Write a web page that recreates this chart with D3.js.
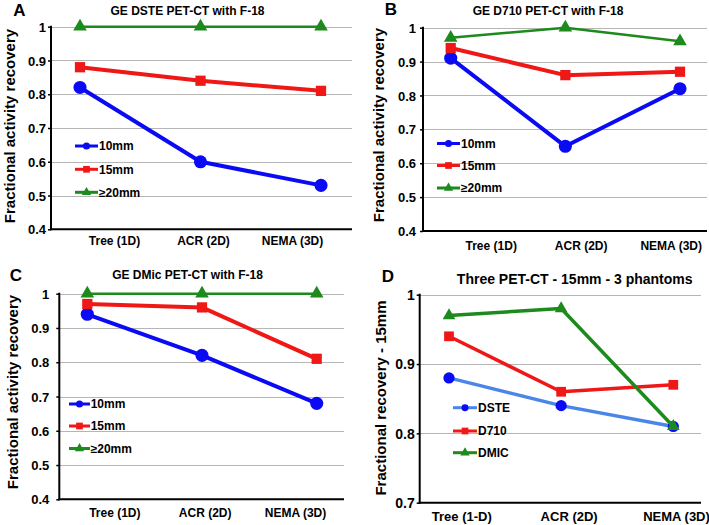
<!DOCTYPE html>
<html>
<head>
<meta charset="utf-8">
<script src="https://cdn.jsdelivr.net/npm/d3@7"></script>
<style>
  html, body { margin: 0; padding: 0; background: #fff; }
  svg { display: block; }
  text { font-family: "Liberation Sans", Arial, Helvetica, sans-serif; font-weight: bold; fill: #000; }
</style>
</head>
<body>
<svg id="chart" width="709" height="525"></svg>
<script>
// ---------------- DATA ----------------
const categoriesABC = ["Tree (1D)", "ACR (2D)", "NEMA (3D)"];
const categoriesD = ["Tree (1-D)", "ACR (2D)", "NEMA (3D)"];
const sizeSeriesNames = ["10mm", "15mm", "\u226520mm"];
const scannerSeriesNames = ["DSTE", "D710", "DMIC"];

const titleA = "GE DSTE PET-CT with F-18";
const titleB = "GE D710 PET-CT with F-18";
const titleC = "GE DMic PET-CT with F-18";
const titleD = "Three PET-CT - 15mm - 3 phantoms";
const yTitleABC = "Fractional activity recovery";
const yTitleD = "Fractional recovery - 15mm";

const panelA_10mm = [0.82, 0.60, 0.53];
const panelA_15mm = [0.88, 0.84, 0.81];
const panelA_20mm = [1.00, 1.00, 1.00];

const panelB_10mm = [0.91, 0.65, 0.82];
const panelB_15mm = [0.94, 0.86, 0.87];
const panelB_20mm = [0.97, 1.00, 0.96];

const panelC_10mm = [0.94, 0.82, 0.68];
const panelC_15mm = [0.97, 0.96, 0.81];
const panelC_20mm = [1.00, 1.00, 1.00];

const panelD_DSTE = [0.88, 0.84, 0.81];
const panelD_D710 = [0.94, 0.86, 0.87];
const panelD_DMIC = [0.97, 0.98, 0.81];

const yTicksABC = [0.4, 0.5, 0.6, 0.7, 0.8, 0.9, 1];
const yTickLabelsABC = ["0.4", "0.5", "0.6", "0.7", "0.8", "0.9", "1"];
const yTicksD = [0.7, 0.8, 0.9, 1];
const yTickLabelsD = ["0.7", "0.8", "0.9", "1"];

// ---------------- STYLE ----------------
const BLUE = "#0a0af5", RED = "#f01717", GREEN = "#1d8a1d", LIGHTBLUE = "#4a86e8", GRID = "#b5b5b5";

const svg = d3.select("#chart");

function drawPanel(cfg) {
  const g = svg.append("g");
  const y = d3.scaleLinear().domain(cfg.yDomain).range([cfg.yBottom, cfg.yTop]);
  const xPts = d3.scalePoint().domain(cfg.categories).range(cfg.pointRange);
  const xLab = d3.scalePoint().domain(cfg.categories).range(cfg.labelRange);

  // gridlines
  g.selectAll("line.grid").data(cfg.yTicks.filter(v => v !== cfg.yDomain[0])).join("line")
    .attr("class", "grid")
    .attr("x1", cfg.axisX).attr("x2", cfg.gridEnd)
    .attr("y1", d => Math.round(y(d)) + 0.5).attr("y2", d => Math.round(y(d)) + 0.5)
    .attr("stroke", GRID).attr("stroke-width", 1);

  // y axis
  const yAxis = d3.axisLeft(y).tickValues(cfg.yTicks)
    .tickFormat((d, i) => cfg.yTickLabels[i]).tickSize(3).tickPadding(cfg.tickPad);
  const ya = g.append("g").attr("transform", `translate(${cfg.axisX},0)`).call(yAxis);
  ya.select(".domain").remove();
  ya.selectAll(".tick line").attr("stroke", "#000").attr("stroke-width", 1.5);
  ya.selectAll(".tick text").style("font-size", cfg.tickFont + "px").attr("dy", "0.35em");
  g.append("line").attr("x1", cfg.axisX).attr("x2", cfg.axisX)
    .attr("y1", cfg.yTop - 1).attr("y2", cfg.yBottom + 1)
    .attr("stroke", "#000").attr("stroke-width", 2);
  g.append("line").attr("x1", cfg.axisX - 1).attr("x2", cfg.gridEnd)
    .attr("y1", cfg.yBottom).attr("y2", cfg.yBottom)
    .attr("stroke", "#000").attr("stroke-width", 2);

  // x labels
  const xAxis = d3.axisBottom(xLab).tickSize(0).tickPadding(0);
  const xa = g.append("g").attr("transform", `translate(0,${cfg.xLabelY})`).call(xAxis);
  xa.select(".domain").remove();
  xa.selectAll(".tick text").style("font-size", cfg.xFont + "px").attr("dy", "0");

  // titles
  g.append("text").attr("x", cfg.titleX).attr("y", cfg.titleY).attr("text-anchor", "middle")
    .style("font-size", cfg.titleFont + "px").text(cfg.title);
  g.append("text").attr("x", cfg.letterX).attr("y", cfg.letterY).attr("text-anchor", "middle")
    .style("font-size", "17px").text(cfg.letter);
  g.append("text").attr("transform", `translate(${cfg.yTitleX},${cfg.yTitleY}) rotate(-90)`)
    .attr("text-anchor", "middle").style("font-size", cfg.yTitleFont + "px").text(cfg.yTitle);

  // series
  const line = d3.line().x((d, i) => xPts(cfg.categories[i])).y(d => y(d));
  cfg.series.forEach(s => {
    g.append("path").datum(s.values).attr("d", line)
      .attr("fill", "none").attr("stroke", s.lineColor).attr("stroke-width", s.lineWidth)
      .attr("stroke-linejoin", "round");
    g.selectAll(null).data(s.values).join("path")
      .attr("transform", (d, i) => `translate(${xPts(cfg.categories[i])},${y(d)})`)
      .attr("d", d3.symbol().type(s.symbol).size(s.size))
      .attr("fill", s.color);
  });

  // legend
  cfg.series.forEach((s, i) => {
    const ly = cfg.legendY[i];
    g.append("line").attr("x1", cfg.legendX[0]).attr("x2", cfg.legendX[1])
      .attr("y1", ly).attr("y2", ly).attr("stroke", s.lineColor).attr("stroke-width", 3);
    g.append("path").attr("transform", `translate(${(cfg.legendX[0] + cfg.legendX[1]) / 2},${ly})`)
      .attr("d", d3.symbol().type(s.symbol).size(s.legendSize)).attr("fill", s.color);
    g.append("text").attr("x", cfg.legendTextX).attr("y", ly).attr("dy", "0.36em")
      .style("font-size", "12px").text(s.name);
  });
}

function sizeSeries(v10, v15, v20) {
  return [
    { name: sizeSeriesNames[0], values: v10, color: BLUE, lineColor: BLUE, lineWidth: 4, symbol: d3.symbolCircle, size: 135, legendSize: 40 },
    { name: sizeSeriesNames[1], values: v15, color: RED, lineColor: RED, lineWidth: 4, symbol: d3.symbolSquare, size: 105, legendSize: 45 },
    { name: " " + sizeSeriesNames[2], values: v20, color: GREEN, lineColor: GREEN, lineWidth: 2.5, symbol: d3.symbolTriangle, size: 80, legendSize: 38 }
  ];
}

drawPanel({
  letter: "A", letterX: 19.5, letterY: 16, title: titleA, titleX: 187.5, titleY: 15, titleFont: 12,
  yTitle: yTitleABC, yTitleX: 15, yTitleY: 126, yTitleFont: 15,
  categories: categoriesABC, yDomain: [0.4, 1], yTicks: yTicksABC, yTickLabels: yTickLabelsABC,
  yTop: 26.7, yBottom: 229.3, axisX: 51, gridEnd: 352, tickPad: 2, tickFont: 13,
  pointRange: [80, 321], labelRange: [114, 292], xLabelY: 245, xFont: 12,
  legendX: [75, 98], legendTextX: 99, legendY: [146, 169.3, 192.3],
  series: sizeSeries(panelA_10mm, panelA_15mm, panelA_20mm)
});

drawPanel({
  letter: "B", letterX: 391, letterY: 14.5, title: titleB, titleX: 548, titleY: 15, titleFont: 12,
  yTitle: yTitleABC, yTitleX: 384, yTitleY: 125, yTitleFont: 15,
  categories: categoriesABC, yDomain: [0.4, 1], yTicks: yTicksABC, yTickLabels: yTickLabelsABC,
  yTop: 27.7, yBottom: 231, axisX: 423, gridEnd: 707, tickPad: 4, tickFont: 13,
  pointRange: [450.7, 680], labelRange: [490.7, 670.7], xLabelY: 250, xFont: 12,
  legendX: [437, 460], legendTextX: 461, legendY: [143.5, 165.5, 188],
  series: sizeSeries(panelB_10mm, panelB_15mm, panelB_20mm)
});

drawPanel({
  letter: "C", letterX: 16, letterY: 280.5, title: titleC, titleX: 187.5, titleY: 278.7, titleFont: 12,
  yTitle: yTitleABC, yTitleX: 18, yTitleY: 392, yTitleFont: 15,
  categories: categoriesABC, yDomain: [0.4, 1], yTicks: yTicksABC, yTickLabels: yTickLabelsABC,
  yTop: 293.7, yBottom: 499.3, axisX: 59.3, gridEnd: 344, tickPad: 7, tickFont: 13,
  pointRange: [87.3, 316.7], labelRange: [114.3, 295], xLabelY: 516.5, xFont: 12,
  legendX: [69, 90], legendTextX: 90.7, legendY: [404, 426, 448.5],
  series: sizeSeries(panelC_10mm, panelC_15mm, panelC_20mm)
});

drawPanel({
  letter: "D", letterX: 388, letterY: 282, title: titleD, titleX: 574.7, titleY: 283.5, titleFont: 14,
  yTitle: yTitleD, yTitleX: 386, yTitleY: 398, yTitleFont: 15,
  categories: categoriesD, yDomain: [0.7, 1], yTicks: yTicksD, yTickLabels: yTickLabelsD,
  yTop: 294.7, yBottom: 502.7, axisX: 419.7, gridEnd: 701, tickPad: 2, tickFont: 14,
  pointRange: [449, 673.3], labelRange: [461.3, 676], xLabelY: 521, xFont: 13,
  legendX: [453, 477], legendTextX: 478, legendY: [407.7, 431, 452.7],
  series: [
    { name: scannerSeriesNames[0], values: panelD_DSTE, color: BLUE, lineColor: LIGHTBLUE, lineWidth: 3.5, symbol: d3.symbolCircle, size: 100, legendSize: 38 },
    { name: scannerSeriesNames[1], values: panelD_D710, color: RED, lineColor: RED, lineWidth: 3.5, symbol: d3.symbolSquare, size: 95, legendSize: 45 },
    { name: scannerSeriesNames[2], values: panelD_DMIC, color: GREEN, lineColor: GREEN, lineWidth: 3.5, symbol: d3.symbolTriangle, size: 70, legendSize: 38 }
  ]
});
</script>
</body>
</html>
